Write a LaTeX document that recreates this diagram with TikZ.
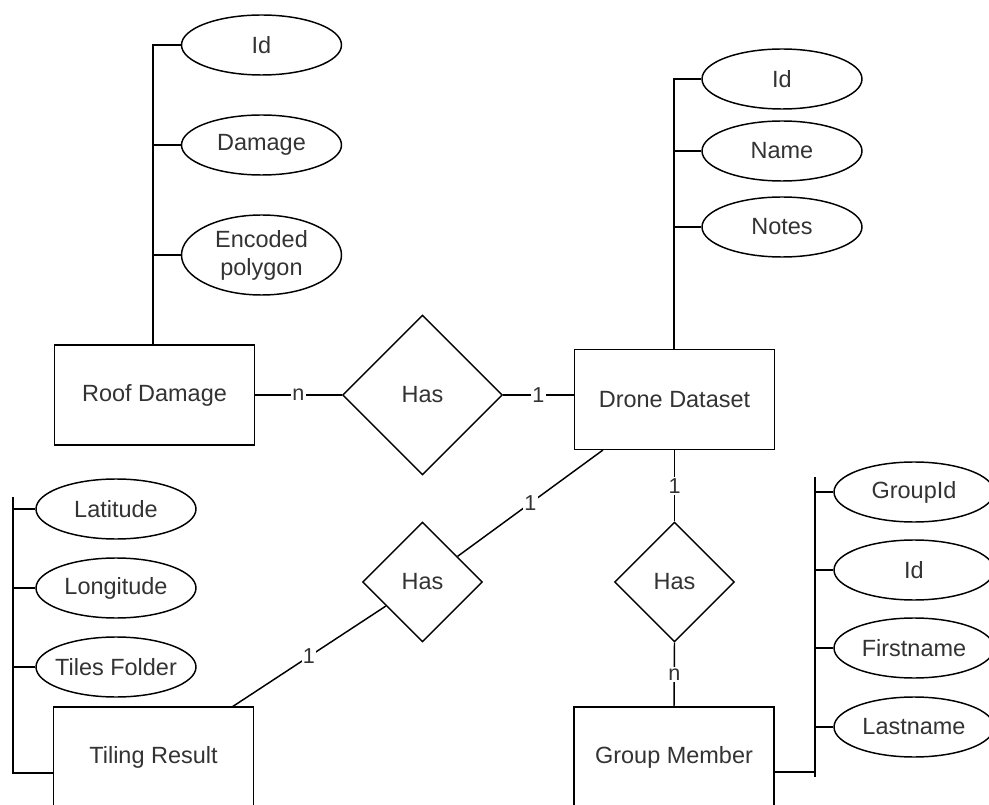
\documentclass[tikz,border=0pt]{standalone}
\usepackage{fontspec}
\setmainfont{Liberation Sans}
\usetikzlibrary{shapes.geometric}
\definecolor{txt}{HTML}{333333}
\begin{document}
\begin{tikzpicture}[x=0.75pt,y=-0.75pt,
  every node/.style={text=txt,font=\fontsize{17.6}{21}\selectfont},
  line/.style={draw=black,line width=1.1pt},
  entity/.style={line,rectangle,minimum width=150pt,minimum height=75pt,inner sep=0pt},
  attr/.style={line,ellipse,minimum width=120pt,minimum height=45pt,inner sep=0pt,align=center},
  bigrel/.style={line,diamond,minimum width=120pt,minimum height=120pt,inner sep=0pt},
  smallrel/.style={line,diamond,minimum width=90pt,minimum height=90pt,inner sep=0pt},
  card/.style={fill=white,inner sep=1pt,font=\fontsize{16.2}{19}\selectfont}]
\clip (0,0) rectangle (989,805);
\fill[white] (0,0) rectangle (989,805);

% entities
\node[entity] (rd) at (154.5,395) {Roof Damage};
\node[entity] (dd) at (674.5,399.5) {Drone Dataset};
\node[entity] (gm) at (674,757) {Group Member};
\node[entity] (tr) at (153.5,757) {Tiling Result};

% relationships
\node[bigrel] (has1) at (422.5,395) {Has};
\node[smallrel] (has2) at (422.5,582) {Has};
\node[smallrel] (has3) at (674.5,582) {Has};

% Roof Damage attributes
\node[attr] (rdid) at (261.5,45) {Id};
\node[attr] (rddmg) at (261.5,145) {Damage};
\node[attr,minimum height=60pt] (rdpoly) at (261.5,255) {Encoded\\polygon};
\coordinate (rdtop) at (153,44);
\draw[line] (rd.north -| rdtop) -- (rdtop);
\draw[line] (rdid.west) -- (rdid.west -| rdtop);
\draw[line] (rddmg.west) -- (rddmg.west -| rdtop);
\draw[line] (rdpoly.west) -- (rdpoly.west -| rdtop);

% Drone Dataset attributes
\node[attr] (ddid) at (782,79) {Id};
\node[attr] (ddname) at (782,151) {Name};
\node[attr] (ddnotes) at (782,227) {Notes};
\coordinate (ddtop) at (674,78);
\draw[line] (dd.north -| ddtop) -- (ddtop);
\draw[line] (ddid.west) -- (ddid.west -| ddtop);
\draw[line] (ddname.west) -- (ddname.west -| ddtop);
\draw[line] (ddnotes.west) -- (ddnotes.west -| ddtop);

% Group Member attributes
\node[attr] (gmgid) at (914,492) {GroupId};
\node[attr] (gmid) at (914,570) {Id};
\node[attr] (gmfirst) at (914,648) {Firstname};
\node[attr] (gmlast) at (914,727) {Lastname};
\coordinate (gmtop) at (815,477);
\coordinate (gmbot) at (815,777);
\coordinate (gmjoin) at (815,772);
\draw[line] (gmtop) -- (gmbot);
\draw[line] (gm.east |- gmjoin) -- (gmjoin);
\draw[line] (gmgid.west) -- (gmgid.west -| gmtop);
\draw[line] (gmid.west) -- (gmid.west -| gmtop);
\draw[line] (gmfirst.west) -- (gmfirst.west -| gmtop);
\draw[line] (gmlast.west) -- (gmlast.west -| gmtop);

% Tiling Result attributes
\node[attr] (trlat) at (116,509) {Latitude};
\node[attr] (trlon) at (116,588) {Longitude};
\node[attr,inner xsep=-4pt] (trtiles) at (116,667) {Tiles Folder};
\coordinate (trtop) at (13,497);
\coordinate (trjoin) at (13,773);
\draw[line] (trtop) -- (trjoin) -- (tr.west |- trjoin);
\draw[line] (trlat.west) -- (trlat.west -| trtop);
\draw[line] (trlon.west) -- (trlon.west -| trtop);
\draw[line] (trtiles.west) -- (trtiles.west -| trtop);

% relationship connectors
\draw[line] (rd.east |- has1.west) -- node[card]{n} (has1.west);
\draw[line] (has1.east) -- node[card]{1} (has1.east -| dd.west);
\draw[line] (dd.south) -- node[card]{1} (has3.north);
\draw[line] (has3.south) -- node[card]{n} (gm.north);
\coordinate (ddb) at (603,450);
\coordinate (trt) at (232,707);
\draw[line] (ddb) -- node[card]{1} (has2);
\draw[line] (has2) -- node[card]{1} (trt);
\end{tikzpicture}
\end{document}
